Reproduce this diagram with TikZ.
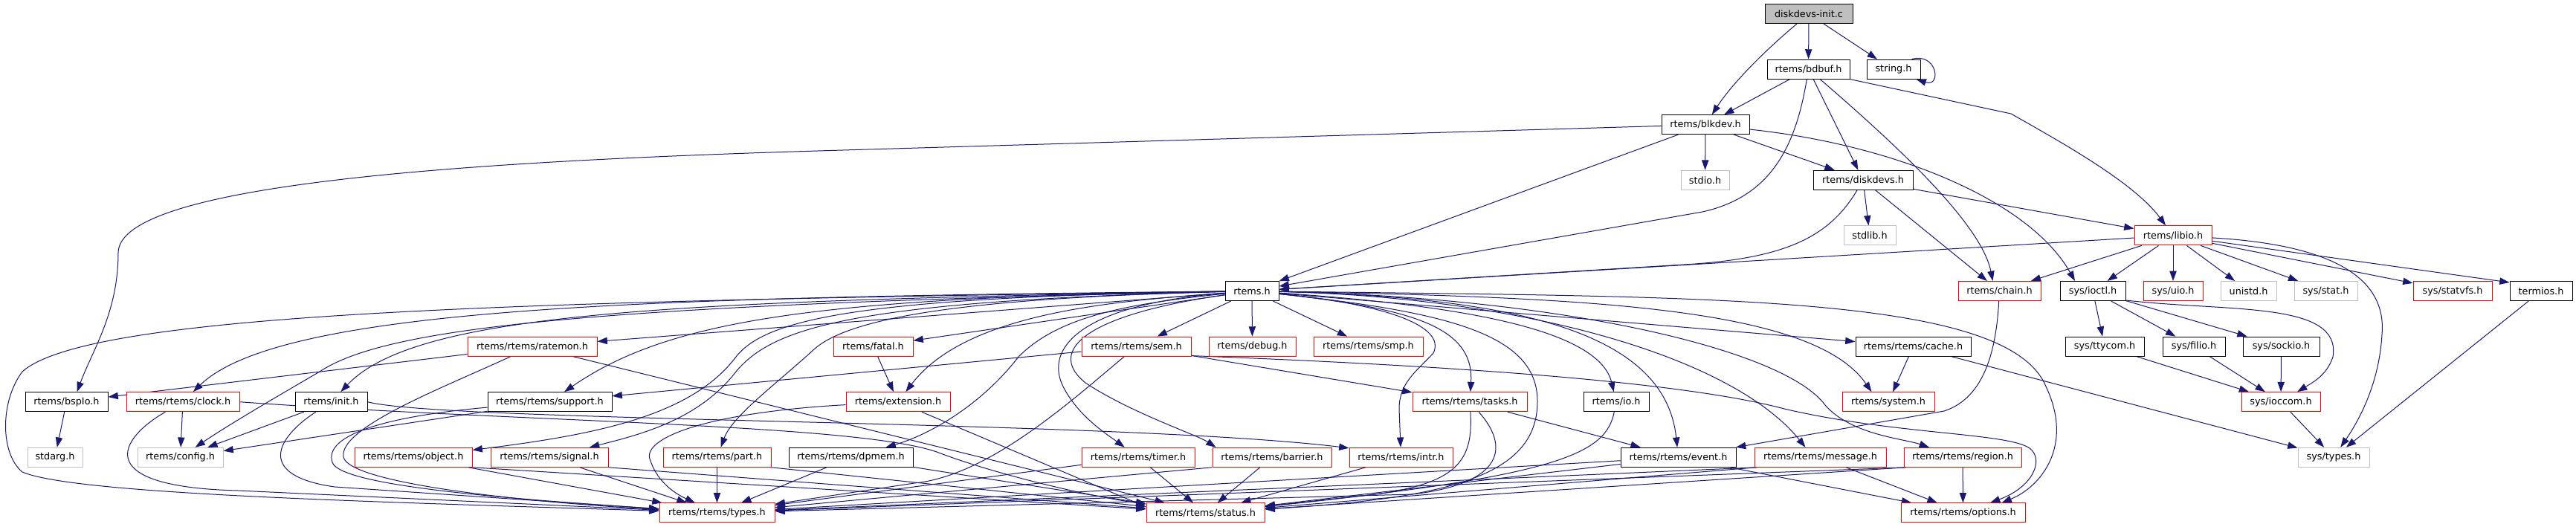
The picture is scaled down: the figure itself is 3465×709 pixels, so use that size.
\documentclass[tikz,border=0pt]{standalone}
\usepackage{fontspec}
\setmainfont{DejaVu Sans}
\usetikzlibrary{arrows.meta,calc,backgrounds}
\definecolor{edgeblue}{RGB}{25,25,112}
\definecolor{greyseventyfive}{RGB}{191,191,191}
\newcommand\dxnode[6]{\node[#5, minimum width={(#3-#2)*0.75pt}] (#1) at ({(#2+#3)/2},{18.5+74.6*#4}) {#6};}
\begin{document}
\begin{tikzpicture}[x=0.75pt,y=-0.75pt,
  box/.style={rectangle, inner sep=0pt, minimum height=19.5pt, line width=0.75pt, fill=white, text=black, font=\fontsize{9.6}{11.5}\selectfont},
  nb/.style={box, draw=black},
  nr/.style={box, draw=red},
  ng/.style={box, draw=greyseventyfive},
  nsrc/.style={box, draw=black, fill=greyseventyfive},
  edg/.style={draw=edgeblue, line width=0.75pt, -{Triangle[length=10pt,width=7pt]}}]
\useasboundingbox (0,0) rectangle (3465,709);
% nodes
\dxnode{n0}{2374}{2492}{0}{nsrc}{diskdevs-init.c}
\dxnode{bdbuf}{2377}{2488}{1}{nb}{rtems/bdbuf.h}
\dxnode{string}{2511}{2583}{1}{nb}{string.h}
\dxnode{blkdev}{2235}{2353}{2}{nb}{rtems/blkdev.h}
\dxnode{stdio}{2261}{2326}{3}{ng}{stdio.h}
\dxnode{diskdevs}{2439}{2573}{3}{nb}{rtems/diskdevs.h}
\dxnode{stdlib}{2480}{2550}{4}{ng}{stdlib.h}
\dxnode{libio}{2871}{2975}{4}{nr}{rtems/libio.h}
\dxnode{rtems}{1648}{1720}{5}{nb}{rtems.h}
\dxnode{chain}{2634}{2745}{5}{nr}{rtems/chain.h}
\dxnode{ioctl}{2771}{2859}{5}{nb}{sys/ioctl.h}
\dxnode{uio}{2883}{2963}{5}{nr}{sys/uio.h}
\dxnode{unistd}{2987}{3062}{5}{ng}{unistd.h}
\dxnode{stat}{3086}{3171}{5}{ng}{sys/stat.h}
\dxnode{statvfs}{3246}{3352}{5}{nr}{sys/statvfs.h}
\dxnode{termios}{3376}{3460}{5}{nb}{termios.h}
\dxnode{ratemon}{629}{803}{6}{nr}{rtems/rtems/ratemon.h}
\dxnode{fatal}{1121}{1228}{6}{nr}{rtems/fatal.h}
\dxnode{sem}{1455}{1602}{6}{nr}{rtems/rtems/sem.h}
\dxnode{debug}{1626}{1743}{6}{nr}{rtems/debug.h}
\dxnode{smp}{1767}{1914}{6}{nr}{rtems/rtems/smp.h}
\dxnode{cache}{2496}{2651}{6}{nb}{rtems/rtems/cache.h}
\dxnode{ttycom}{2778}{2884}{6}{nb}{sys/ttycom.h}
\dxnode{filio}{2909}{2993}{6}{nb}{sys/filio.h}
\dxnode{sockio}{3017}{3120}{6}{nb}{sys/sockio.h}
\dxnode{bspio}{34}{145}{7}{nb}{rtems/bspIo.h}
\dxnode{clock}{170}{322}{7}{nr}{rtems/rtems/clock.h}
\dxnode{init}{397}{494}{7}{nb}{rtems/init.h}
\dxnode{support}{656}{823}{7}{nb}{rtems/rtems/support.h}
\dxnode{extension}{1138}{1278}{7}{nr}{rtems/extension.h}
\dxnode{tasks}{1900}{2054}{7}{nr}{rtems/rtems/tasks.h}
\dxnode{io}{2130}{2218}{7}{nb}{rtems/io.h}
\dxnode{system}{2478}{2602}{7}{nr}{rtems/system.h}
\dxnode{ioccom}{3015}{3121}{7}{nr}{sys/ioccom.h}
\dxnode{stdarg}{37}{111}{8}{ng}{stdarg.h}
\dxnode{config}{185}{300}{8}{ng}{rtems/config.h}
\dxnode{object}{477}{635}{8}{nr}{rtems/rtems/object.h}
\dxnode{signal}{660}{818}{8}{nr}{rtems/rtems/signal.h}
\dxnode{part}{892}{1037}{8}{nr}{rtems/rtems/part.h}
\dxnode{dpmem}{1061}{1228}{8}{nb}{rtems/rtems/dpmem.h}
\dxnode{timer}{1455}{1607}{8}{nr}{rtems/rtems/timer.h}
\dxnode{barrier}{1631}{1791}{8}{nr}{rtems/rtems/barrier.h}
\dxnode{intr}{1815}{1954}{8}{nr}{rtems/rtems/intr.h}
\dxnode{event}{2180}{2335}{8}{nb}{rtems/rtems/event.h}
\dxnode{message}{2360}{2537}{8}{nr}{rtems/rtems/message.h}
\dxnode{region}{2561}{2719}{8}{nr}{rtems/rtems/region.h}
\dxnode{systypes}{3091}{3187}{8}{ng}{sys/types.h}
\dxnode{types}{887}{1042}{9}{nr}{rtems/rtems/types.h}
\dxnode{status}{1542}{1701}{9}{nr}{rtems/rtems/status.h}
\dxnode{options}{2557}{2724}{9}{nr}{rtems/rtems/options.h}
\begin{scope}[on background layer]
\fill[white] (0,0) rectangle (3465,709);
% top part
\draw[edg] (n0) .. controls (2360,80) and (2325,120) .. (blkdev);
\draw[edg] (n0) -- (bdbuf);
\draw[edg] ($(n0.south)+(20,0)$) -- ($(string.north)+(-22,0)$);
\draw[edg] ($(string.north east)+(-12,0)$) .. controls (2606,70) and (2612,118) .. ($(string.south east)+(-6,0)$);
\draw[edg] (bdbuf) -- (blkdev);
\draw[edg] (bdbuf) .. controls (2415,200) and (2380,265) .. (2290,285) -- (rtems);
\draw[edg] (bdbuf) -- (diskdevs);
\draw[edg] (bdbuf) .. controls (2545,190) and (2665,300) .. ($(chain.north)+(-9,0)$);
\draw[edg] (bdbuf.south east) -- (2705,153) .. controls (2770,190) and (2870,245) .. (libio);
\draw[edg] (blkdev) -- (1100,203) .. controls (600,218) and (160,250) .. (159,340) .. controls (159,420) and (125,470) .. ($(bspio.north)+(14,0)$);
\draw[edg] (blkdev) -- (rtems);
\draw[edg] (blkdev) -- (stdio);
\draw[edg] (blkdev) -- (diskdevs);
\draw[edg] (blkdev) .. controls (2550,195) and (2730,270) .. ($(ioctl.north)+(-24,0)$);
\draw[edg] (diskdevs) .. controls (2460,320) and (2400,348) .. (2265,356) -- (rtems);
\draw[edg] (diskdevs) -- (stdlib);
\draw[edg] (diskdevs) -- (chain);
\draw[edg] (diskdevs) -- (libio);
% libio
\draw[edg] (libio) -- (rtems);
\draw[edg] (libio) -- (chain);
\draw[edg] (libio) -- (ioctl);
\draw[edg] (libio) -- (uio);
\draw[edg] (libio) -- (unistd);
\draw[edg] (libio) -- (stat);
\draw[edg] (libio) -- (statvfs);
\draw[edg] (libio) -- ($(termios.north west)+(0,2)$);
\draw[edg] (libio) .. controls (3150,330) and (3210,380) .. (3204,450) .. controls (3200,520) and (3170,570) .. (systypes);
% sys
\draw[edg] (ioctl) -- (ttycom);
\draw[edg] (ioctl) -- (filio);
\draw[edg] (ioctl) -- (sockio);
\draw[edg] ($(ioctl.south east)+(0,-1)$) .. controls (3000,420) and (3150,405) .. (3138,480) .. controls (3130,505) and (3110,515) .. (ioccom);
\draw[edg] (ttycom) -- (ioccom);
\draw[edg] (filio) -- (ioccom);
\draw[edg] (sockio) -- (ioccom);
\draw[edg] (ioccom) -- (systypes);
\draw[edg] (termios) -- (systypes);
\draw[edg] (cache) -- (systypes);
\draw[edg] (cache) -- (system);
\draw[edg] (chain) .. controls (2685,470) and (2670,535) .. (2615,553) -- (event);
% rtems.h
\draw[edg] (rtems) -- (ratemon);
\draw[edg] (rtems) -- (fatal);
\draw[edg] (rtems) -- (sem);
\draw[edg] (rtems) -- (debug);
\draw[edg] (rtems) -- (smp);
\draw[edg] (rtems) -- (cache);
\draw[edg] (rtems) .. controls (1900,415) and (1983,440) .. (tasks);
\draw[edg] (rtems) .. controls (1870,410) and (1945,440) .. (1928,475) .. controls (1905,500) and (1882,515) .. (1882,550) -- (intr);
\draw[edg] (rtems) .. controls (1950,420) and (2068,450) .. (2068,540) .. controls (2068,640) and (1950,670) .. (status);
\draw[edg] (rtems) .. controls (1450,410) and (1405,470) .. (1430,520) .. controls (1450,560) and (1490,585) .. (timer);
\draw[edg] (rtems) .. controls (1450,425) and (1410,475) .. (1460,515) .. controls (1520,555) and (1610,585) .. ($(barrier.north west)+(5,0)$);
\draw[edg] (rtems) .. controls (1950,410) and (2150,440) .. (io);
\draw[edg] (rtems) .. controls (2050,400) and (2240,450) .. (event);
\draw[edg] (rtems) .. controls (2050,400) and (2330,480) .. ($(message.north)+(-20,0)$);
\draw[edg] (rtems) .. controls (2100,400) and (2400,470) .. (2455,545) .. controls (2490,585) and (2560,590) .. ($(region.north)+(-45,0)$);
\draw[edg] (rtems) .. controls (2150,400) and (2440,415) .. ($(system.north west)+(40,0)$);
\draw[edg] (rtems) .. controls (2300,400) and (2700,395) .. (2752,520) .. controls (2790,600) and (2745,655) .. ($(options.north east)+(-32,0)$);
\draw[edg] (rtems) .. controls (1500,405) and (1300,420) .. (extension);
\draw[edg] (rtems) .. controls (1500,410) and (1420,430) .. (1370,480) .. controls (1320,545) and (1250,585) .. (dpmem);
\draw[edg] (rtems) .. controls (1350,400) and (1150,420) .. (1095,470) .. controls (1040,520) and (985,560) .. (part);
\draw[edg] (rtems) .. controls (1150,405) and (1040,440) .. (990,500) .. controls (940,565) and (860,585) .. (signal);
\draw[edg] (rtems) .. controls (1150,400) and (1030,430) .. (990,480) .. controls (930,560) and (800,585) .. (object);
\draw[edg] (rtems) .. controls (1100,400) and (900,430) .. (support);
\draw[edg] (rtems) .. controls (900,405) and (560,420) .. (init);
\draw[edg] (rtems) .. controls (800,410) and (520,440) .. (430,500) .. controls (370,535) and (310,570) .. (config);
\draw[edg] (rtems) .. controls (900,400) and (380,410) .. (clock);
\draw[edg] (rtems) .. controls (700,405) and (120,420) .. (30,500) .. controls (0,540) and (0,610) .. (30,635) .. controls (100,665) and (500,675) .. (types);
% lower rows
\draw[edg] (ratemon) -- (bspio);
\draw[edg] (ratemon) .. controls (600,520) and (455,575) .. (462,615) .. controls (470,650) and (700,675) .. (types);
\draw[edg] (ratemon) -- (status);
\draw[edg] (bspio) -- (stdarg);
\draw[edg] (clock) -- (config);
\draw[edg] (clock) .. controls (160,590) and (120,655) .. (320,660) -- (types);
\draw[edg] (clock.east) .. controls (700,568) and (1150,570) .. (1260,608) .. controls (1330,635) and (1450,665) .. (status);
\draw[edg] (init) -- (config);
\draw[edg] (init) .. controls (370,590) and (345,640) .. (450,655) -- (types);
\draw[edg] (init.east) .. controls (600,568) and (1500,565) .. ($(intr.north west)+(0,1)$);
\draw[edg] (support) -- (config);
\draw[edg] (support) .. controls (520,560) and (435,585) .. (447,622) .. controls (458,655) and (700,672) .. (types);
\draw[edg] (object) -- (types);
\draw[edg] (object.south east) -- (status);
\draw[edg] (signal) -- (types);
\draw[edg] (signal.south east) -- (status);
\draw[edg] (part) -- (types);
\draw[edg] (part.south east) -- (status);
\draw[edg] (dpmem) -- (types);
\draw[edg] (dpmem) -- (status);
\draw[edg] (fatal) -- (extension);
\draw[edg] (extension) .. controls (950,555) and (860,590) .. (875,620) .. controls (885,650) and (910,665) .. (types);
\draw[edg] (extension) -- ($(status.west)+(0,-8)$);
\draw[edg] (sem) -- (support);
\draw[edg] (sem) -- (tasks);
\draw[edg] ($(sem.south east)+(0,-1)$) .. controls (1900,490) and (2250,510) .. (2400,550) .. controls (2550,585) and (2700,582) .. (2730,603) .. controls (2750,618) and (2735,655) .. (options);
\draw[edg] (sem) .. controls (1440,540) and (1330,640) .. (1230,650) -- (types);
\draw[edg] (tasks) .. controls (1982,620) and (1960,650) .. (1850,665) -- (status);
\draw[edg] (tasks) .. controls (2030,600) and (2025,650) .. (1900,665) -- (types);
\draw[edg] (tasks) -- (event);
\draw[edg] (io) .. controls (2160,610) and (2100,640) .. (status);
\draw[edg] (event) -- (types);
\draw[edg] (event) -- (status);
\draw[edg] (event) -- (options);
\draw[edg] ($(message.south west)+(3,0)$) -- (types);
\draw[edg] ($(message.south west)+(3,0)$) -- (status);
\draw[edg] (message) -- (options);
\draw[edg] ($(region.south west)+(3,0)$) -- (types);
\draw[edg] ($(region.south west)+(3,0)$) -- (status);
\draw[edg] (region) -- (options);
\draw[edg] (timer) -- (types);
\draw[edg] (timer) -- (status);
\draw[edg] (barrier.south west) -- (types);
\draw[edg] (barrier) -- (status);
\draw[edg] (intr) -- (status);
\end{scope}
\end{tikzpicture}
\end{document}
